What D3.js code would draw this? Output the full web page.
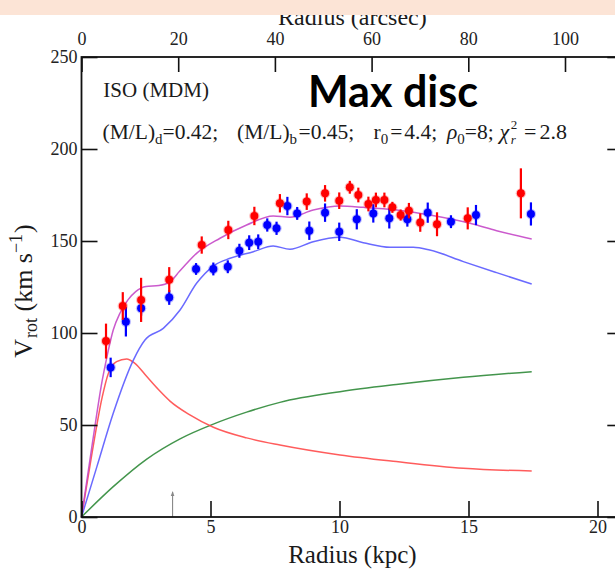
<!DOCTYPE html>
<html><head><meta charset="utf-8">
<script src="https://cdn.jsdelivr.net/npm/d3@7"></script>
<style>html,body{margin:0;padding:0;background:#fff;}svg{display:block;}</style>
</head><body>
<svg id="c" width="615" height="569"></svg>
<script>
// ---------------- data ----------------
const xTicks = [0, 5, 10, 15, 20];
const arcTicks = [0, 20, 40, 60, 80, 100];
const yTicks = [0, 50, 100, 150, 200, 250];
const KPC_PER_ARCSEC = 0.1874;

// observed rotation curve (red)
const redR   = [0.95, 1.6, 2.31, 3.4, 4.66, 5.69, 6.7, 7.69, 8.73, 9.44, 9.99, 10.4, 10.73, 11.12, 11.41, 11.74, 12.05, 12.37, 12.69, 13.13, 13.78, 14.97, 17.03];
const redV   = [95.6, 114.7, 118, 129, 147.8, 156, 163.6, 170.5, 171.4, 175.9, 171.9, 179.2, 175, 170.1, 172.3, 172.3, 168.3, 164.1, 166.5, 160, 159.1, 162.3, 175.9];
const redErr = [9.5, 7.5, 12, 6.8, 4.7, 5, 5, 5, 4.5, 4.5, 4.5, 3.5, 4, 4, 4, 4, 3, 3, 4.2, 5, 6.5, 6, 13.6];
// observed rotation curve (blue)
const bluR   = [1.13, 1.72, 2.31, 3.4, 4.44, 5.11, 5.67, 6.12, 6.5, 6.85, 7.2, 7.56, 7.98, 8.36, 8.83, 9.44, 9.99, 10.67, 11.31, 11.93, 12.63, 13.42, 14.32, 15.29, 17.42];
const bluV   = [81.3, 106.1, 113.4, 119.3, 134.8, 134.8, 136, 144.7, 149.1, 149.6, 158.7, 156.9, 169, 165, 155.6, 165.4, 155, 161.8, 165, 162.3, 161.8, 165.4, 160.5, 164.1, 164.7];
const bluErr = [5.3, 8, 4, 4, 3.2, 3.5, 3.5, 3.8, 4, 4, 3.6, 3.6, 5, 3.5, 5, 5, 5, 5.5, 5, 5.5, 4, 5.5, 3.5, 5.5, 6.3];

// model curves
const totR  = [0, 0.4, 0.8, 1.0, 1.23, 1.5, 1.8, 2.1, 2.5, 3.0, 3.4, 3.8, 4.46, 5.37, 6.4, 7.43, 8.08, 8.98, 10.02, 10.92, 12.22, 13.5, 15.06, 16.09, 17.45];
const totV  = [0, 38, 74, 88, 101.6, 111, 118, 122.5, 125.3, 125.8, 127.5, 133.5, 143.3, 151.5, 158.7, 163.6, 162.9, 166.8, 169, 168.3, 166.8, 164.1, 159.6, 155.6, 151.1];
const bulR  = [0, 0.4, 0.8, 1.04, 1.36, 1.75, 2.07, 2.53, 3.0, 3.43, 4.2, 5.11, 6.4, 7.69, 10.02, 12.2, 14.8, 17.45];
const bulV  = [0, 34, 65, 78, 84.4, 85.9, 83.5, 76.3, 69, 63, 55.5, 48.8, 43, 39.1, 33.7, 30.1, 26.5, 25];
const diskR = [0, 0.6, 1.23, 2.01, 2.46, 3.17, 3.82, 4.46, 5.11, 5.76, 6.66, 7.43, 8.08, 8.98, 10.02, 10.92, 11.96, 12.86, 13.5, 14.8, 16.09, 17.45];
const diskV = [0, 27.5, 56.4, 85.3, 96.2, 102.5, 112.5, 127, 136.4, 140.6, 144.2, 147.3, 145.5, 149.6, 152, 149.1, 146.6, 146.6, 145.1, 138.8, 132.8, 126.6];
const haloR = [0, 1.23, 2.53, 3.82, 5.11, 6.4, 7.69, 10.02, 12.2, 14.8, 17.45];
const haloV = [0, 16.5, 31.5, 42.5, 50.5, 57, 62.3, 68.1, 72, 75.9, 79];

const markerR = [3.53];

// ---------------- drawing ----------------
const svg = d3.select("#c");
const L = 81.5, R = 623.3, T = 57, B = 517;
const x = d3.scaleLinear().domain([0, 21]).range([L, R]);
const xa = d3.scaleLinear().domain([0, 21 / KPC_PER_ARCSEC]).range([L, R]);
const y = d3.scaleLinear().domain([0, 250]).range([B, T]);
const serif = "'Liberation Serif','Times New Roman',serif";

// model lines
const line = (rs, vs) => d3.line().curve(d3.curveMonotoneX)(rs.map((r, i) => [x(r), y(vs[i])]));
const models = [
  [haloR, haloV, "#2f8a38"],
  [bulR, bulV, "#ff4a4a"],
  [diskR, diskV, "#5a5aff"],
  [totR, totV, "#c548c8"]
];
models.forEach(([rs, vs, col]) => {
  svg.append("path").attr("d", line(rs, vs)).attr("fill", "none")
    .attr("stroke", col).attr("stroke-width", 1.5).attr("stroke-opacity", 0.9);
});

// data points
function pts(rs, vs, es, col) {
  const g = svg.append("g");
  rs.forEach((r, i) => {
    g.append("line").attr("x1", x(r)).attr("x2", x(r))
      .attr("y1", y(vs[i] - es[i])).attr("y2", y(vs[i] + es[i]))
      .attr("stroke", col).attr("stroke-width", 2.2);
    g.append("circle").attr("cx", x(r)).attr("cy", y(vs[i])).attr("r", 5.2)
      .attr("fill", col).attr("opacity", 0.25);
    g.append("circle").attr("cx", x(r)).attr("cy", y(vs[i])).attr("r", 4)
      .attr("fill", col);
  });
}
pts(bluR, bluV, bluErr, "#0000ff");
pts(redR, redV, redErr, "#ff0000");

// marker arrow
markerR.forEach(r => {
  const xm = x(r);
  svg.append("line").attr("x1", xm).attr("x2", xm).attr("y1", B).attr("y2", B - 25)
    .attr("stroke", "#888").attr("stroke-width", 1.1);
  svg.append("path").attr("d", `M${xm - 1.8},${B - 21}L${xm},${B - 26}L${xm + 1.8},${B - 21}Z`)
    .attr("fill", "#888");
});

// axes
function styleAxis(g, showText) {
  g.select(".domain").remove();
  g.selectAll(".tick line").attr("stroke", "#111").attr("stroke-width", 1.6);
  g.selectAll(".tick text").attr("fill", "#222").style("font-family", serif).style("font-size", "18px");
  if (!showText) g.selectAll(".tick text").remove();
}
svg.append("g").attr("transform", `translate(0,${B})`)
  .call(d3.axisBottom(x).tickValues(xTicks).tickFormat(d3.format("d")).tickSizeInner(-16).tickSizeOuter(0).tickPadding(3))
  .call(g => styleAxis(g, true));
svg.append("g").attr("transform", `translate(0,${T})`)
  .call(d3.axisTop(xa).tickValues(arcTicks).tickFormat(d3.format("d")).tickSizeInner(-15).tickSizeOuter(0).tickPadding(12))
  .call(g => styleAxis(g, true));
svg.append("g").attr("transform", `translate(${L},0)`)
  .call(d3.axisLeft(y).tickValues(yTicks).tickFormat(d3.format("d")).tickSizeInner(-16).tickSizeOuter(0).tickPadding(4))
  .call(g => styleAxis(g, true));
svg.append("g").attr("transform", `translate(${R},0)`)
  .call(d3.axisRight(y).tickValues(yTicks).tickSizeInner(-16).tickSizeOuter(0))
  .call(g => styleAxis(g, false));

// frame
svg.append("rect").attr("x", L).attr("y", T).attr("width", R - L).attr("height", B - T)
  .attr("fill", "none").attr("stroke", "#111").attr("stroke-width", 1.8);

// axis titles
svg.append("text").attr("x", (L + R) / 2).attr("y", 563).attr("text-anchor", "middle")
  .style("font-family", serif).style("font-size", "25px").attr("fill", "#1a1a1a").text("Radius (kpc)");
svg.append("text").attr("x", (L + R) / 2).attr("y", 25).attr("text-anchor", "middle")
  .style("font-family", serif).style("font-size", "24px").attr("fill", "#1a1a1a").text("Radius (arcsec)");

const yl = svg.append("text").attr("transform", "translate(32,291) rotate(-90)").attr("text-anchor", "middle")
  .style("font-family", serif).style("font-size", "26px").attr("fill", "#1a1a1a");
yl.append("tspan").text("V");
yl.append("tspan").attr("dy", 5).attr("dx", 1).style("font-size", "18px").text("rot");
yl.append("tspan").attr("dy", -5).text("\u00a0(km s");
yl.append("tspan").attr("dy", -10).style("font-size", "18px").text("\u22121");
yl.append("tspan").attr("dy", 10).attr("dx", 1).text(")");

// annotations
svg.append("text").attr("x", 103.3).attr("y", 96.7)
  .style("font-family", serif).style("font-size", "21px").attr("fill", "#1a1a1a").text("ISO (MDM)");

const base2 = 138.5;
function seg(x0, parts) {
  const t = svg.append("text").attr("x", x0).attr("y", base2)
    .style("font-family", serif).style("font-size", "21.5px").attr("fill", "#1a1a1a");
  let shift = 0;
  parts.forEach(([s, kind, dx]) => {
    const ts = t.append("tspan").text(s);
    if (dx) ts.attr("dx", dx);
    if (kind === "sub") { ts.attr("dy", 5 - shift).style("font-size", "15px"); shift = 5; }
    else { if (shift) ts.attr("dy", -shift); shift = 0; if (kind === "it") ts.style("font-style", "italic"); }
  });
  return t;
}
seg(102.5, [["(M/L)"], ["d", "sub"], ["=0.42;"]]);
seg(237, [["(M/L)"], ["b", "sub"], ["=0.45;", null, 1.5]]);
seg(373.5, [["r"], ["0", "sub"], ["=", null, 2], ["4.4;", null, 2]]);
seg(447, [["\u03c1", "it"], ["0", "sub"], ["=8;"]]);
// chi-square with stacked super/subscript
const chi = svg.append("text").attr("x", 499.5).attr("y", base2)
  .style("font-family", serif).style("font-size", "22px").style("font-style", "italic").attr("fill", "#1a1a1a").text("\u03c7");
const cw = chi.node().getComputedTextLength();
svg.append("text").attr("x", 499.5 + cw + 1.5).attr("y", base2 - 10)
  .style("font-family", serif).style("font-size", "13px").attr("fill", "#1a1a1a").text("2");
svg.append("text").attr("x", 499.5 + cw + 1.5).attr("y", base2 + 5)
  .style("font-family", serif).style("font-size", "13px").style("font-style", "italic").attr("fill", "#1a1a1a").text("r");
svg.append("text").attr("x", 524).attr("y", base2)
  .style("font-family", serif).style("font-size", "22px").attr("fill", "#1a1a1a").text("=");
svg.append("text").attr("x", 539.5).attr("y", base2)
  .style("font-family", serif).style("font-size", "22px").attr("fill", "#1a1a1a").text("2.8");

// "Max disc"
const md = svg.append("text").attr("x", 308).attr("y", 106.5)
  .style("font-family", "Lato, 'Open Sans', sans-serif").style("font-weight", "bold")
  .style("font-size", "40px").attr("fill", "#000").text("Max disc");
const mw = md.node().getComputedTextLength();
md.style("font-size", (40 * 170 / mw).toFixed(2) + "px");

// top banner
svg.append("rect").attr("x", 0).attr("y", 0).attr("width", 615).attr("height", 15).attr("fill", "#fce4d6");
</script>
</body></html>
